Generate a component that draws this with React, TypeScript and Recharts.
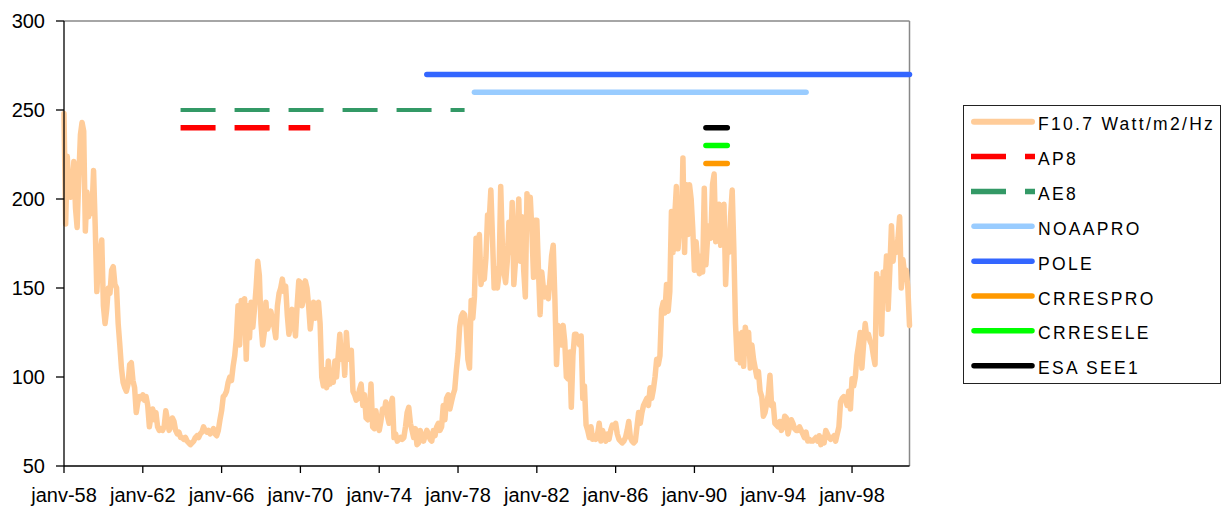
import React from 'react';
import { LineChart, Line, XAxis, YAxis, ReferenceLine, Legend } from 'recharts';

// Monthly F10.7 solar flux, Jan 1958 .. Dec 2000 (index 0 = janv-58)
const F107_MONTHLY: number[] = [
  248, 186, 224, 205, 201, 204, 221, 195, 184, 212, 236, 243, // 1958
  238, 182, 204, 190, 198, 192, 216, 185, 148, 165, 170, 177, // 1959
  140, 130, 138, 150, 147, 160, 162, 152, 150, 130, 118, 105, // 1960
  97, 94, 92, 96, 107, 108, 98, 94, 80, 86, 89, 88, // 1961
  90, 87, 89, 84, 72, 78, 82, 76, 80, 72, 70, 71, // 1962
  70, 72, 81, 76, 70, 72, 77, 75, 70, 68, 69, 66, // 1963
  66, 65, 66, 64, 63, 62, 63, 64, 66, 67, 66, 68, // 1964
  69, 72, 70, 69, 70, 68, 69, 71, 68, 67, 70, 76, // 1965
  81, 89, 90, 92, 97, 100, 98, 106, 112, 122, 140, 118, // 1966
  143, 125, 144, 110, 140, 122, 142, 128, 138, 150, 165, 157, // 1967
  130, 118, 125, 142, 127, 130, 137, 132, 128, 122, 140, 147, // 1968
  150, 155, 148, 151, 135, 124, 130, 138, 132, 123, 140, 154, // 1969
  153, 140, 145, 154, 150, 140, 127, 135, 142, 133, 140, 142, // 1970
  130, 100, 95, 104, 94, 109, 96, 103, 97, 109, 100, 112, // 1971
  124, 110, 117, 101, 125, 110, 114, 115, 92, 90, 87, 88, // 1972
  93, 96, 84, 90, 77, 76, 80, 96, 72, 71, 81, 73, // 1973
  70, 75, 82, 80, 86, 78, 74, 84, 88, 66, 68, 64, // 1974
  65, 66, 65, 66, 72, 80, 83, 74, 70, 66, 71, 62, // 1975
  63, 70, 66, 64, 67, 70, 68, 65, 64, 70, 67, 72, // 1976
  74, 70, 72, 84, 76, 88, 90, 82, 86, 90, 93, 104, // 1977
  113, 128, 134, 136, 135, 128, 110, 105, 143, 133, 145, 178, // 1978
  167, 180, 152, 158, 155, 167, 191, 188, 205, 178, 150, 161, // 1979
  150, 158, 207, 175, 159, 153, 165, 187, 170, 198, 152, 165, // 1980
  180, 200, 165, 190, 160, 145, 203, 185, 201, 182, 156, 188, // 1981
  188, 160, 135, 159, 150, 145, 150, 144, 155, 168, 174, 144, // 1982
  107, 129, 122, 118, 129, 120, 100, 99, 114, 83, 112, 124, // 1983
  124, 120, 118, 123, 88, 95, 73, 70, 66, 72, 65, 67, // 1984
  65, 68, 74, 64, 70, 67, 64, 68, 65, 70, 73, 72, // 1985
  74, 68, 65, 64, 63, 64, 66, 70, 75, 66, 64, 63, // 1986
  64, 72, 80, 74, 80, 84, 86, 88, 84, 94, 88, 93, // 1987
  100, 110, 107, 112, 138, 142, 136, 152, 137, 148, 193, 170, // 1988
  190, 207, 172, 185, 180, 223, 170, 208, 180, 208, 200, 183, // 1989
  160, 176, 165, 158, 168, 159, 206, 163, 178, 185, 178, 208, // 1990
  214, 176, 188, 197, 174, 185, 197, 152, 175, 170, 190, 205, // 1991
  172, 130, 110, 124, 108, 125, 106, 128, 120, 125, 105, 118, // 1992
  110, 105, 100, 103, 92, 89, 78, 80, 85, 90, 101, 84, // 1993
  85, 74, 73, 72, 75, 70, 72, 78, 77, 68, 72, 76, // 1994
  74, 71, 70, 70, 72, 70, 68, 66, 69, 64, 65, 64, // 1995
  64, 65, 66, 64, 67, 62, 66, 63, 70, 68, 66, 65, // 1996
  66, 67, 64, 68, 72, 86, 88, 89, 87, 84, 92, 82, // 1997
  99, 95, 100, 112, 118, 125, 105, 118, 130, 122, 124, 120, // 1998
  118, 112, 107, 158, 140, 155, 124, 159, 150, 168, 138, 160, // 1999
  185, 165, 175, 170, 178, 190, 150, 166, 158, 160, 150, 129, // 2000
];

// Model validity periods (month index from janv-58) and their plotting level
const SEG_KEYS = ['ap8', 'ae8', 'noaapro', 'pole', 'crrespro', 'crresele', 'esasee1'];
const SEG_NAMES = ['AP8', 'AE8', 'NOAAPRO', 'POLE', 'CRRESPRO', 'CRRESELE', 'ESA SEE1'];
const SEG_LEVELS = [240, 250, 260, 270, 220, 230, 240];
const SEG_STARTS = [71, 71, 250, 221, 391, 391, 391];
const SEG_ENDS = [150, 244, 452, 515, 404, 404, 404];
const SEG_COLORS = ['#FF0000', '#339966', '#99CCFF', '#3366FF', '#FF9900', '#00FF00', '#000000'];
const SEG_DASHED = [true, true, false, false, false, false, false];
const SEG_WIDTHS = [5.5, 4, 5.5, 5.5, 5.5, 5.5, 5.5];

const F107_NAME = 'F10.7 Watt/m2/Hz';
const F107_COLOR = '#FFCC99';

const X_TICKS = [0, 48, 96, 144, 192, 240, 288, 336, 384, 432, 480];
const X_TICK_LABELS = ['janv-58', 'janv-62', 'janv-66', 'janv-70', 'janv-74', 'janv-78', 'janv-82', 'janv-86', 'janv-90', 'janv-94', 'janv-98'];
const Y_TICKS = [50, 100, 150, 200, 250, 300];

const LEGEND_ORDER = [F107_NAME, 'AP8', 'AE8', 'NOAAPRO', 'POLE', 'CRRESPRO', 'CRRESELE', 'ESA SEE1'];

const FONT = '"Liberation Sans", Arial, sans-serif';
const DASH = '35 19';

const data = F107_MONTHLY.map((v, t) => {
  const row: Record<string, number | null> = { t, f107: v };
  SEG_KEYS.forEach((k, i) => {
    row[k] = t >= SEG_STARTS[i] && t <= SEG_ENDS[i] ? SEG_LEVELS[i] : null;
  });
  return row;
});

const legendItems = LEGEND_ORDER.map((name) => {
  if (name === F107_NAME) return { name, color: F107_COLOR, dashed: false, width: 6 };
  const i = SEG_NAMES.indexOf(name);
  return { name, color: SEG_COLORS[i], dashed: SEG_DASHED[i], width: 5.5 };
});

const renderLegend = () => (
  <svg width={258} height={279} style={{ display: 'block' }}>
    <rect x={0.5} y={0.5} width={257} height={278} fill="#fff" stroke="#222" strokeWidth={1} />
    {legendItems.map((it, i) => {
      const cy = 16.7 + i * 34.86;
      return (
        <g key={it.name}>
          <line
            x1={it.dashed ? 8 : 11}
            x2={it.dashed ? 72 : 69}
            y1={cy}
            y2={cy}
            stroke={it.color}
            strokeWidth={it.width}
            strokeLinecap={it.dashed ? 'butt' : 'round'}
            strokeDasharray={it.dashed ? DASH : undefined}
          />
          <text x={75} y={cy + 8.5} fontSize={17.5} letterSpacing={2.3} fontFamily={FONT} fill="#000">
            {it.name}
          </text>
        </g>
      );
    })}
  </svg>
);

export default function App() {
  return (
    <div style={{ position: 'absolute', left: 0, top: 0, width: 1222, height: 507, background: '#fff' }}>
      <LineChart width={1222} height={507} data={data} margin={{ top: 21, right: 312.5, bottom: 0, left: 0 }}>
        <XAxis
          dataKey="t"
          type="number"
          domain={[0, 515]}
          ticks={X_TICKS}
          interval={0}
          tickFormatter={(t: number) => X_TICK_LABELS[X_TICKS.indexOf(t)] ?? ''}
          height={41}
          tickSize={7}
          tickMargin={15}
          axisLine={{ stroke: '#000', strokeWidth: 1.3 }}
          tickLine={{ stroke: '#000', strokeWidth: 1.3 }}
          tick={{ fontSize: 20, fill: '#000', fontFamily: FONT }}
        />
        <YAxis
          type="number"
          domain={[50, 300]}
          ticks={Y_TICKS}
          interval={0}
          width={64}
          tickSize={8}
          tickMargin={11}
          axisLine={{ stroke: '#000', strokeWidth: 1.3 }}
          tickLine={{ stroke: '#000', strokeWidth: 1.3 }}
          tick={{ fontSize: 20, fill: '#000', fontFamily: FONT }}
        />
        <ReferenceLine y={300} stroke="#888" strokeWidth={1.5} />
        <ReferenceLine x={515} stroke="#888" strokeWidth={1.5} />
        <Line
          dataKey="f107"
          name={F107_NAME}
          stroke={F107_COLOR}
          strokeWidth={5.5}
          dot={false}
          activeDot={false}
          strokeLinejoin="round"
          strokeLinecap="round"
          isAnimationActive={false}
        />
        {SEG_KEYS.map((k, i) => (
          <Line
            key={k}
            dataKey={k}
            name={SEG_NAMES[i]}
            stroke={SEG_COLORS[i]}
            strokeWidth={SEG_WIDTHS[i]}
            strokeDasharray={SEG_DASHED[i] ? DASH : undefined}
            strokeLinecap={SEG_DASHED[i] ? 'butt' : 'round'}
            dot={false}
            activeDot={false}
            connectNulls={false}
            isAnimationActive={false}
          />
        ))}
        <Legend
          layout="horizontal"
          verticalAlign="middle"
          align="center"
          width={258}
          height={279}
          wrapperStyle={{ left: 963, top: 105, width: 258, height: 279 }}
          content={renderLegend}
        />
      </LineChart>
    </div>
  );
}
